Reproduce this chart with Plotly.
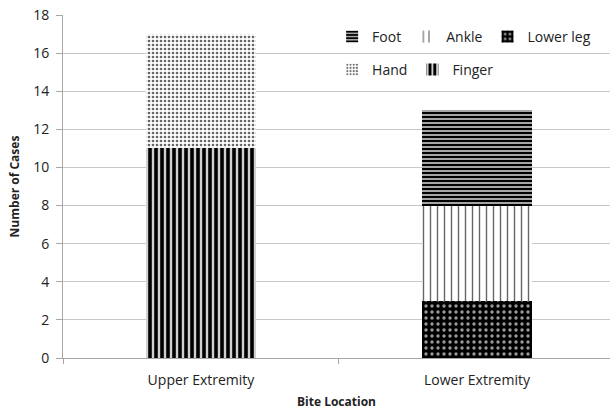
import plotly.graph_objects as go

categories = ["Upper Extremity", "Lower Extremity"]
lower_leg = [0, 3]
ankle = [0, 5]
foot = [0, 5]
finger = [11, 0]
hand = [6, 0]
y_ticks = list(range(0, 19, 2))

FONT = "'Open Sans', sans-serif"

fig = go.Figure()

def add(name, vals, shape, fg, bg, size, sol, legend, rank):
    fig.add_trace(go.Bar(
        x=categories, y=vals, name=name, width=0.4,
        marker=dict(color=bg, line=dict(width=0),
                    pattern=dict(shape=shape, fgcolor=fg, bgcolor=bg,
                                 size=size, solidity=sol, fillmode="replace")),
        legend=legend, legendrank=rank,
    ))

add("Lower leg", lower_leg, ".", "#9a9a9a", "#000000", 6, 0.25, "legend", 3)
add("Ankle", ankle, "|", "#666666", "#ffffff", 7, 0.2, "legend", 2)
add("Foot", foot, "-", "#000000", "#cfcfcf", 4, 0.6, "legend", 1)
add("Finger", finger, "|", "#000000", "#d0d0d0", 6, 0.6, "legend2", 5)
add("Hand", hand, ".", "#666666", "#ffffff", 4, 0.35, "legend2", 4)

leg_common = dict(orientation="h", xanchor="left", yanchor="middle",
                  font=dict(size=14, color="#222", family=FONT),
                  bgcolor="rgba(0,0,0,0)", itemwidth=30, traceorder="normal",
                  tracegroupgap=0)

fig.update_layout(
    barmode="stack",
    width=610, height=415,
    margin=dict(l=63, r=0, t=15, b=57, autoexpand=False),
    paper_bgcolor="white", plot_bgcolor="white",
    font=dict(family=FONT, size=14, color="#222"),
    legend=dict(x=0.492, y=0.936, **leg_common),
    legend2=dict(x=0.492, y=0.84, **leg_common),
)
fig.update_xaxes(
    range=[-0.5, 1.482], showline=True, linecolor="#a6a6a6", linewidth=1,
    ticks="outside", tickson="boundaries", tickcolor="#a6a6a6", ticklen=5,
    ticklabelstandoff=9,
    title=dict(text="<b>Bite Location</b>", font=dict(size=12, color="#222"), standoff=9),
    tickfont=dict(size=14, color="#222"), automargin=False,
)
fig.update_yaxes(
    range=[0, 18], tickvals=y_ticks, showgrid=True, gridcolor="#c8c8c8",
    showline=True, linecolor="#a6a6a6", ticks="outside", tickcolor="#a6a6a6", ticklen=6,
    zeroline=False, ticklabelstandoff=4, ticklabeloverflow="allow",
    title=dict(text="<b>Number of Cases</b>", font=dict(size=12, color="#222"), standoff=10),
    tickfont=dict(size=14, color="#222"), automargin=False,
)

fig.write_html("out.html", config={"displayModeBar": False},
               post_script="document.body.style.margin='0';document.body.style.overflow='hidden';")
